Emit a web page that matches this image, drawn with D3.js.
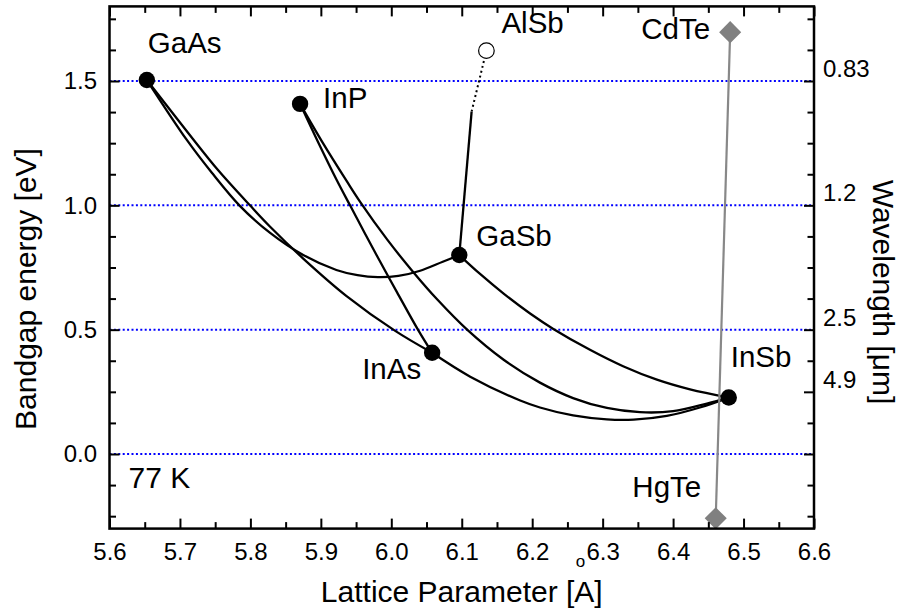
<!DOCTYPE html>
<html>
<head>
<meta charset="utf-8">
<script src="https://cdn.jsdelivr.net/npm/d3@7"></script>
<style>
body { margin: 0; background: #fff; }
svg text { font-family: "Liberation Sans", Arial, sans-serif; }
</style>
</head>
<body>
<svg id="chart" width="903" height="613"></svg>
<script>
// binary compounds (77 K): lattice constant [A], bandgap [eV]
const binaryNames = ["GaAs", "InP", "InAs", "GaSb", "InSb"];
const binaryLattice = [5.653, 5.8705, 6.058, 6.0965, 6.479];
const binaryGap = [1.504, 1.408, 0.407, 0.800, 0.227];

const alsbName = "AlSb";
const alsbLattice = 6.135;
const alsbGap = 1.622;

const iiviNames = ["CdTe", "HgTe"];
const iiviLattice = [6.481, 6.4605];
const iiviGap = [1.6965, -0.2586];

// ternary alloy curves, [lattice, gap]
const inGaAs = [[5.653, 1.504], [5.717, 1.272], [5.754, 1.142], [5.800, 0.998], [5.828, 0.914],
    [5.875, 0.786], [5.937, 0.634], [6.005, 0.496], [6.058, 0.407]];
const gaAsSb = [[5.653, 1.504], [5.710, 1.262], [5.745, 1.132], [5.785, 0.998], [5.828, 0.889],
    [5.875, 0.800], [5.922, 0.740], [5.952, 0.719], [5.981, 0.711], [6.010, 0.716],
    [6.041, 0.737], [6.073, 0.773], [6.0965, 0.800]];
const inAsP = [[5.8705, 1.408], [5.896, 1.255], [5.9225, 1.102], [5.942, 0.997], [5.979, 0.800],
    [6.008, 0.651], [6.038, 0.499], [6.058, 0.407]];
const inPSb = [[5.8705, 1.408], [5.903, 1.250], [5.937, 1.096], [5.956, 1.013], [5.994, 0.863],
    [6.031, 0.732], [6.065, 0.622], [6.108, 0.499], [6.159, 0.380], [6.211, 0.287],
    [6.258, 0.225], [6.306, 0.185], [6.353, 0.168], [6.400, 0.172], [6.448, 0.203], [6.479, 0.227]];
const inAsSb = [[6.058, 0.407], [6.112, 0.311], [6.183, 0.215], [6.211, 0.187], [6.258, 0.155],
    [6.306, 0.139], [6.344, 0.138], [6.391, 0.153], [6.438, 0.187], [6.479, 0.227]];
const gaInSb = [[6.0965, 0.800], [6.126, 0.724], [6.159, 0.646], [6.197, 0.565], [6.230, 0.503],
    [6.282, 0.419], [6.329, 0.353], [6.377, 0.299], [6.424, 0.260], [6.479, 0.227]];
const alGaSbDirect = [[6.0965, 0.800], [6.114, 1.377]];
const alGaSbIndirect = [[6.114, 1.377], [6.135, 1.622]];
const hgCdTe = [[6.481, 1.6965], [6.4605, -0.2586]];

// axes
const xTicks = [5.6, 5.7, 5.8, 5.9, 6.0, 6.1, 6.2, 6.3, 6.4, 6.5, 6.6];
const yTicks = [0.0, 0.5, 1.0, 1.5];
const yMinorTicks = [-0.25, -0.125, 0.125, 0.25, 0.375, 0.625, 0.75, 0.875, 1.125, 1.25, 1.375, 1.625, 1.75];
const wavelengthLabels = ["0.83", "1.2", "2.5", "4.9"];
const wavelengthGap = [1.5, 1.0, 0.5, 0.25];

const FONT = "'Liberation Sans', Arial, sans-serif";

const svg = d3.select("#chart");
const x = d3.scaleLinear().domain([5.6, 6.6]).range([109.5, 814]);
const y = d3.scaleLinear().domain([-0.3, 1.8]).range([528.6, 6.4]);

const xMinorTicks = xTicks.slice(1).map((v, i) => (v + xTicks[i]) / 2);

// blue dotted reference lines
svg.append("g").selectAll("line")
    .data(yTicks)
    .enter().append("line")
    .attr("x1", x(5.6)).attr("x2", x(6.6))
    .attr("y1", d => y(d)).attr("y2", d => y(d))
    .style("stroke", "#0000ff")
    .style("stroke-width", 2)
    .style("stroke-dasharray", "2,2.4");

const line = d3.line()
    .x(d => x(d[0]))
    .y(d => y(d[1]))
    .curve(d3.curveCatmullRom.alpha(0.5));

const curves = [inGaAs, gaAsSb, inAsP, inPSb, inAsSb, gaInSb, alGaSbDirect];
svg.append("g").selectAll("path")
    .data(curves)
    .enter().append("path")
    .attr("d", line)
    .style("fill", "none")
    .style("stroke", "#000")
    .style("stroke-width", 2.3);

svg.append("path")
    .attr("d", line(alGaSbIndirect))
    .style("fill", "none")
    .style("stroke", "#000")
    .style("stroke-width", 2)
    .style("stroke-dasharray", "2,3");

svg.append("path")
    .attr("d", line(hgCdTe))
    .style("fill", "none")
    .style("stroke", "#888")
    .style("stroke-width", 2.2);

// markers
svg.append("g").selectAll("circle")
    .data(binaryNames)
    .enter().append("circle")
    .attr("cx", (d, i) => x(binaryLattice[i]))
    .attr("cy", (d, i) => y(binaryGap[i]))
    .attr("r", 8.2)
    .style("fill", "#000");

svg.append("circle")
    .attr("cx", x(alsbLattice))
    .attr("cy", y(alsbGap))
    .attr("r", 7.8)
    .style("fill", "#fff")
    .style("stroke", "#000")
    .style("stroke-width", 1.2);

svg.append("g").selectAll("rect")
    .data(iiviNames)
    .enter().append("rect")
    .attr("x", -7.8).attr("y", -7.8)
    .attr("width", 15.6).attr("height", 15.6)
    .attr("transform", (d, i) => `translate(${x(iiviLattice[i])},${y(iiviGap[i])}) rotate(45)`)
    .style("fill", "#808080");

// frame
svg.append("rect")
    .attr("x", x(5.6)).attr("y", y(1.8))
    .attr("width", x(6.6) - x(5.6))
    .attr("height", y(-0.3) - y(1.8))
    .style("fill", "none")
    .style("stroke", "#000")
    .style("stroke-width", 2.5);

function styleAxis(g, size) {
    g.attr("font-size", size).attr("font-family", FONT);
    g.selectAll(".domain").remove();
    g.selectAll(".tick line").style("stroke-width", 2);
}

const plotBottom = y(-0.3), plotTop = y(1.8), plotLeft = x(5.6), plotRight = x(6.6);

svg.append("g").attr("transform", `translate(0,${plotBottom})`)
    .call(d3.axisBottom(x).tickValues(xTicks).tickSize(-10).tickSizeOuter(0)
        .tickPadding(14).tickFormat(d3.format(".1f")))
    .call(g => styleAxis(g, 24));
svg.append("g").attr("transform", `translate(0,${plotBottom})`)
    .call(d3.axisBottom(x).tickValues(xMinorTicks).tickSize(-6.5).tickSizeOuter(0).tickFormat(""))
    .call(g => styleAxis(g, 24));
svg.append("g").attr("transform", `translate(0,${plotTop})`)
    .call(d3.axisTop(x).tickValues(xTicks).tickSize(-10).tickSizeOuter(0).tickFormat(""))
    .call(g => styleAxis(g, 24));
svg.append("g").attr("transform", `translate(0,${plotTop})`)
    .call(d3.axisTop(x).tickValues(xMinorTicks).tickSize(-6.5).tickSizeOuter(0).tickFormat(""))
    .call(g => styleAxis(g, 24));

svg.append("g").attr("transform", `translate(${plotLeft},0)`)
    .call(d3.axisLeft(y).tickValues(yTicks).tickSize(-10).tickSizeOuter(0)
        .tickPadding(12.5).tickFormat(d3.format(".1f")))
    .call(g => styleAxis(g, 24));
svg.append("g").attr("transform", `translate(${plotLeft},0)`)
    .call(d3.axisLeft(y).tickValues(yMinorTicks).tickSize(-6.5).tickSizeOuter(0).tickFormat(""))
    .call(g => styleAxis(g, 24));

const rightMajor = yTicks.concat([0.25]);
svg.append("g").attr("transform", `translate(${plotRight},0)`)
    .call(d3.axisRight(y).tickValues(rightMajor).tickSize(-10).tickSizeOuter(0).tickFormat(""))
    .call(g => styleAxis(g, 24));
svg.append("g").attr("transform", `translate(${plotRight},0)`)
    .call(d3.axisRight(y).tickValues(yMinorTicks.filter(v => v !== 0.25)).tickSize(-6.5)
        .tickSizeOuter(0).tickFormat(""))
    .call(g => styleAxis(g, 24));

svg.append("g").selectAll("text")
    .data(wavelengthLabels)
    .enter().append("text")
    .attr("x", plotRight + 9)
    .attr("y", (d, i) => y(wavelengthGap[i]) - 4)
    .style("font-size", "24px")
    .text(d => d);

// axis titles
svg.append("text")
    .attr("transform", `translate(${(plotLeft + plotRight) / 2},602)`)
    .attr("text-anchor", "middle")
    .style("font-size", "30px")
    .text("Lattice Parameter [A]");
svg.append("text")
    .attr("x", 580.5).attr("y", 567)
    .attr("text-anchor", "middle")
    .style("font-size", "17px")
    .text("o");
svg.append("text")
    .attr("transform", "translate(36,289) rotate(-90)")
    .attr("text-anchor", "middle")
    .style("font-size", "30px")
    .text("Bandgap energy [eV]");
svg.append("text")
    .attr("transform", "translate(873,292) rotate(90)")
    .attr("text-anchor", "middle")
    .style("font-size", "30px")
    .text("Wavelength [μm]");

// point labels, pixel offsets from each marker
const labelOffsets = {
    GaAs: [1, -27, "start"], InP: [23, 4, "start"], InAs: [-11, 26.5, "end"],
    GaSb: [17, -9, "start"], InSb: [2, -31, "start"], AlSb: [15, -18, "start"],
    CdTe: [-20, 7, "end"], HgTe: [-14.5, -21.5, "end"]
};

const labelData = binaryNames.map((n, i) => [n, binaryLattice[i], binaryGap[i]])
    .concat([[alsbName, alsbLattice, alsbGap]])
    .concat(iiviNames.map((n, i) => [n, iiviLattice[i], iiviGap[i]]));

svg.append("g").selectAll("text")
    .data(labelData)
    .enter().append("text")
    .attr("x", d => x(d[1]) + labelOffsets[d[0]][0])
    .attr("y", d => y(d[2]) + labelOffsets[d[0]][1])
    .attr("text-anchor", d => labelOffsets[d[0]][2])
    .style("font-size", "29.5px")
    .text(d => d[0]);

svg.append("text")
    .attr("x", plotLeft + 19)
    .attr("y", y(0) + 34)
    .style("font-size", "30px")
    .text("77 K");
</script>
</body>
</html>
